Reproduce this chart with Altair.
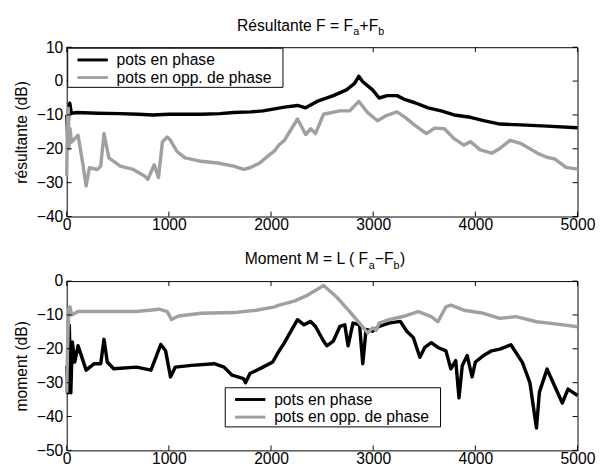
import altair as alt
import pandas as pd

FONT = "Liberation Sans"
W, H = 522, 173
TICK = 5

# ---------------- data ----------------
x_ticks = [0, 1000, 2000, 3000, 4000, 5000]
top_y_ticks = [10, 0, -10, -20, -30, -40]
bot_y_ticks = [0, -10, -20, -30, -40, -50]

legend_labels = ["pots en phase", "pots en opp. de phase"]
line_colors = ["#000000", "#a0a0a0"]

top_title_parts = ["Résultante F = F", "a", "+F", "b"]
bot_title_parts = ["Moment M = L ( F", "a", "\u2212F", "b", ")"]

y_titles = ["résultante (dB)", "moment (dB)"]

# Top panel: résultante, pots en phase (black)
top_black_f = [0, 10, 20, 30, 45, 100, 300, 524, 700, 841, 1000, 1200, 1317, 1500,
               1635, 1800, 1921, 2035, 2131, 2259, 2339, 2450, 2610, 2738, 2818,
               2859, 2898, 2994, 3058, 3137, 3233, 3313, 3409, 3537, 3665, 3792,
               3952, 4080, 4240, 4500, 4700, 5000]
top_black_v = [-10, -17, -9, -6.5, -9.5, -9.3, -9.5, -9.6, -9.8, -10, -9.8, -9.8, -9.8,
               -9.6, -9.3, -9.1, -8.8, -8.2, -7.7, -7.2, -7.9, -6, -4.3, -2.6, -0.7,
               1.4, -0.2, -2.6, -5, -4.3, -4.3, -5.5, -6.4, -7.9, -8.8, -10, -10.7,
               -11.7, -12.7, -13, -13.3, -13.8]

# Top panel: résultante, pots en opposition de phase (gray)
top_gray_f = [0, 8, 15, 22, 32, 48, 80, 111, 159, 190, 222, 302, 333, 365, 413, 524,
              651, 762, 794, 857, 898, 937, 984, 1016, 1079, 1159, 1317, 1476, 1635,
              1730, 1794, 1889, 1984, 2035, 2079, 2131, 2259, 2339, 2387, 2435, 2514,
              2674, 2770, 2859, 2946, 3042, 3121, 3233, 3313, 3409, 3521, 3601, 3697,
              3792, 3888, 3952, 4048, 4160, 4240, 4340, 4450, 4620, 4700, 4776, 4888,
              5000]
top_gray_v = [-28, -10, -8, -20, -14, -18, -17, -16, -24.7, -31, -25.6, -26.1, -25.1,
              -15.5, -22.7, -25.1, -26.1, -28, -29, -24.7, -28.5, -17.9, -16.5, -17.5,
              -20.8, -22.7, -23.7, -24.2, -25.1, -26.1, -25.6, -24.2, -21.8, -20.6,
              -18.8, -17.5, -11.2, -15.8, -14.1, -15.5, -9.8, -8.8, -8.8, -6, -9.3,
              -11.7, -10.3, -9.1, -10.7, -13.1, -15.5, -13.9, -14.1, -17, -18.9, -17.9,
              -20.3, -21.3, -19.9, -17.5, -18.5, -21.5, -22.5, -23, -25.5, -26]

# Bottom panel: moment, pots en phase (black)
bot_black_f = [0, 12, 25, 40, 55, 79, 111, 143, 190, 270, 333, 365, 397, 460, 683, 825,
               921, 968, 1016, 1063, 1222, 1444, 1540, 1619, 1730, 1750, 1794, 1921,
               2016, 2079, 2131, 2259, 2323, 2387, 2435, 2514, 2546, 2610, 2674, 2722,
               2754, 2802, 2866, 2898, 2930, 2994, 3058, 3153, 3265, 3329, 3393, 3457,
               3505, 3569, 3633, 3712, 3760, 3808, 3840, 3872, 3920, 3968, 4000, 4080,
               4160, 4240, 4348, 4460, 4534, 4598, 4627, 4702, 4776, 4851, 4907, 5000]
bot_black_v = [-25, -33, -13, -33, -18, -23.9, -19.1, -22, -26.3, -24.4, -24.4, -17.2,
               -23.9, -25.9, -25.4, -26.3, -18.7, -20.6, -28.3, -25.4, -24.9, -24.4,
               -25.4, -27.8, -28.8, -30, -27.3, -25.4, -23.9, -20.6, -18.2, -11.4,
               -12.9, -11.9, -13.4, -17.7, -19.1, -17.7, -13.4, -12.9, -19.1, -12.4,
               -12.9, -24.4, -14.3, -14.8, -13.4, -12.4, -11.9, -14.8, -16.7, -22.5,
               -19.6, -18.2, -19.6, -20.6, -25.9, -23.5, -34.5, -24.9, -22, -28.3,
               -23.9, -22, -20.6, -20.1, -18.8, -24, -30, -43.4, -32.8, -26, -31, -36,
               -31.9, -33.8]

# Bottom panel: moment, pots en opposition de phase (gray)
bot_gray_f = [0, 8, 20, 32, 48, 111, 365, 683, 905, 984, 1025, 1095, 1317, 1635, 1857,
              2035, 2079, 2227, 2355, 2450, 2514, 2642, 2770, 2866, 2946, 2994, 3030,
              3058, 3153, 3313, 3441, 3569, 3633, 3712, 3760, 3888, 4080, 4240, 4400,
              4600, 4800, 5000]
bot_gray_v = [-33, -20, -8, -7.6, -10, -9, -9, -9, -8.3, -9, -11.3, -10.3, -9.5, -9.3,
              -8.6, -7.6, -7.1, -5.9, -4.2, -2.5, -1.3, -4.7, -9, -12.4, -15.3, -13.8,
              -14.5, -12.4, -11.4, -10.3, -9, -10.5, -12, -7.6, -7.1, -8.6, -9.5, -11,
              -10.5, -12, -12.7, -13.5]

one = pd.DataFrame({"k": [0]})


def panel(bf, bv, gf, gv, ydomain, yticks, ytitle, leg_x, leg_y,
          title_parts, title_x, title_dy, title_size):
    xs = alt.Scale(domain=[0, 5000], nice=False, zero=False)
    ys = alt.Scale(domain=ydomain, nice=False, zero=False)
    xaxis = alt.Axis(values=x_ticks, format="d", ticks=False, domain=False, grid=False,
                     labelFont=FONT, labelFontSize=16, labelColor="black",
                     labelPadding=0, labelFlush=False, labelOverlap=False, title=None)
    yaxis = alt.Axis(values=yticks, format="d", ticks=False, domain=False, grid=False,
                     labelFont=FONT, labelFontSize=16, labelColor="black",
                     labelPadding=4, labelFlush=False, labelOverlap=False,
                     title=ytitle, titleFont=FONT, titleFontSize=16,
                     titleFontWeight="normal", titleColor="black", titlePadding=7)
    X = alt.X("f:Q", scale=xs, axis=xaxis)
    Y = alt.Y("v:Q", scale=ys, axis=yaxis)

    black = alt.Chart(pd.DataFrame({"f": bf, "v": bv})).mark_line(
        color=line_colors[0], strokeWidth=3.5, strokeJoin="round").encode(x=X, y=Y)
    gray = alt.Chart(pd.DataFrame({"f": gf, "v": gv})).mark_line(
        color=line_colors[1], strokeWidth=3.5, strokeJoin="round").encode(x=X, y=Y)

    xt = pd.DataFrame({"f": x_ticks})
    yt = pd.DataFrame({"v": yticks})
    tick_style = dict(color="black", strokeWidth=1)
    tb = alt.Chart(xt).mark_rule(**tick_style).encode(x=X, y=alt.value(H), y2=alt.value(H - TICK))
    tt = alt.Chart(xt).mark_rule(**tick_style).encode(x=X, y=alt.value(0), y2=alt.value(TICK))
    tl = alt.Chart(yt).mark_rule(**tick_style).encode(y=Y, x=alt.value(0), x2=alt.value(TICK))
    tr = alt.Chart(yt).mark_rule(**tick_style).encode(y=Y, x=alt.value(W), x2=alt.value(W - TICK))

    layers = [black, gray, tb, tt, tl, tr]

    # legend box
    box = alt.Chart(one).mark_rect(fill="white", stroke="black", strokeWidth=1).encode(
        x=alt.value(leg_x), x2=alt.value(leg_x + 220),
        y=alt.value(leg_y), y2=alt.value(leg_y + 40))
    layers.append(box)
    for i, (lab, col) in enumerate(zip(legend_labels, line_colors)):
        yy = leg_y + 12 + i * 18
        layers.append(alt.Chart(one).mark_rule(color=col, strokeWidth=3).encode(
            x=alt.value(leg_x + 10), x2=alt.value(leg_x + 41), y=alt.value(yy)))
        layers.append(alt.Chart(one).mark_text(
            align="left", baseline="middle", font=FONT, fontSize=16, color="black").encode(
            x=alt.value(leg_x + 50), y=alt.value(yy + 0.5), text=alt.value(lab)))

    # title with subscripts
    for part, px, dy, sz in zip(title_parts, title_x, title_dy, title_size):
        layers.append(alt.Chart(one).mark_text(
            align="left", baseline="alphabetic", font=FONT, fontSize=sz, color="black").encode(
            x=alt.value(px), y=alt.value(dy), text=alt.value(part)))

    return alt.layer(*layers).properties(width=W, height=H)


top = panel(top_black_f, top_black_v, top_gray_f, top_gray_v, [-40, 10], top_y_ticks,
            y_titles[0], 1, 1, top_title_parts,
            [174, 292.7, 299.3, 318.4], [-17, -12, -17, -12], [16, 11, 16, 11])
bottom = panel(bot_black_f, bot_black_v, bot_gray_f, bot_gray_v, [-50, 0], bot_y_ticks,
               y_titles[1], 162, 109, bot_title_parts,
               [182, 308.7, 314.8, 333.9, 340.5], [-17, -12, -17, -12, -17],
               [16, 11, 16, 11, 16])

chart = alt.vconcat(top, bottom, spacing=66, bounds="flush").configure_view(
    stroke="black", strokeWidth=1, fill="white"
).properties(
    padding={"left": 5, "top": 4, "right": 5, "bottom": 0},
    background="white",
)

chart.save("out.html", embed_options={"renderer": "svg", "actions": False})
